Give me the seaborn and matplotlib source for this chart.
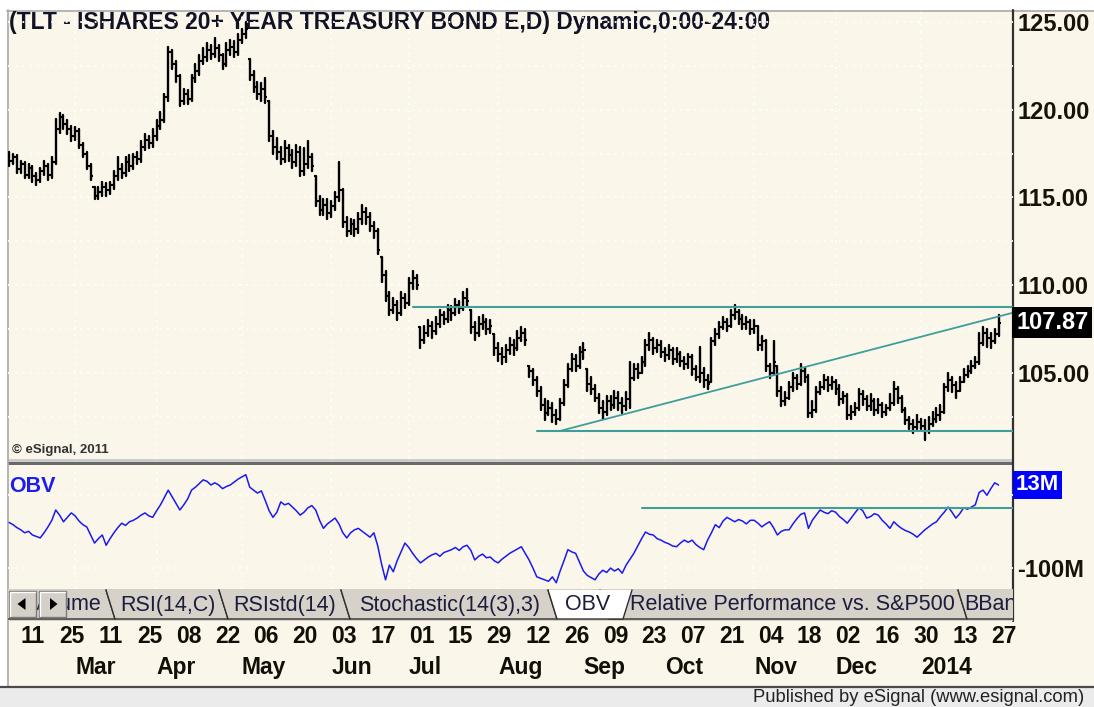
import numpy as np
import pandas as pd
import matplotlib
matplotlib.use("Agg")
import matplotlib.pyplot as plt
import seaborn as sns
from matplotlib.patches import Rectangle, Polygon

# ---------------- data ----------------
start_date = "2013-02-06"

close = [117.1, 117.3, 116.6, 116.9, 116.3, 116.7, 116.2, 116.0, 116.5, 116.8, 116.3, 117.0,
         118.9, 119.6, 119.2, 118.9, 118.5, 118.8, 118.0, 117.5, 116.8, 116.2,
         115.1, 115.3, 115.6, 115.4, 115.7, 116.2, 116.6, 116.4,
         117.0, 116.8, 117.3, 117.2, 117.9, 118.3, 118.1, 118.5, 119.1, 119.4,
         120.7, 123.3, 122.6, 121.9, 120.5, 120.9, 120.6, 121.8, 122.2, 122.8,
         123.0, 123.4, 123.2, 123.5, 123.1, 122.6, 123.4, 123.6, 123.3, 124.0, 124.3, 124.6,
         122.0, 121.3, 120.9, 121.2, 120.7, 118.5, 117.9, 117.6, 117.2, 117.8,
         117.4, 117.0, 117.6, 116.5, 116.9, 117.3, 116.8,
         114.8, 114.3, 114.6, 114.1, 114.5, 115.0, 115.4, 113.6, 113.1, 113.5,
         113.2, 113.8, 114.2, 113.9, 113.4, 113.1, 112.0,
         110.6, 109.4, 108.6, 108.9, 108.4, 109.3, 109.0, 110.1, 110.4, 110.0,
         106.9, 107.3, 107.7, 107.4, 107.8, 108.3, 108.1, 108.6, 108.4,
         108.9, 108.7, 109.3, 109.1, 107.6, 107.3, 107.8, 107.9, 107.5, 107.7,
         106.4, 106.1, 105.9, 106.3, 106.6, 106.4, 107.0, 107.3, 106.9,
         105.1, 104.6, 104.0, 103.2, 102.7, 103.0, 102.6, 102.4, 103.3, 104.3,
         105.2, 105.8, 105.4, 106.2, 106.3, 104.4, 104.1, 103.6,
         103.0, 102.8, 103.4, 103.2, 103.6, 103.3, 103.1, 103.5,
         104.7, 105.2, 105.0, 105.6, 106.6, 106.9, 106.4, 106.6, 106.2,
         106.0, 106.3, 105.8, 106.1, 105.7, 105.5, 105.9, 105.2, 104.8, 105.0, 104.6, 104.4,
         106.8, 107.2, 107.6, 107.9, 107.7, 108.3, 108.5, 108.1, 107.8, 107.9,
         107.5, 107.7, 106.6, 106.8, 105.4, 105.0, 105.6, 104.0, 103.4, 103.6,
         104.2, 104.7, 104.4, 105.1, 104.8, 102.7, 102.9, 103.9, 104.2, 104.6, 104.3, 104.5,
         104.1, 103.5, 103.7, 102.6, 102.8, 103.0, 103.8, 103.5, 103.1, 103.4, 102.9, 103.2,
         102.8, 103.0, 103.3, 104.1, 103.6, 102.9, 102.3, 102.1, 101.9, 102.2, 102.0, 101.7, 102.1,
         102.4, 102.6, 102.8, 104.2, 104.6, 104.3, 104.0, 104.5, 104.9, 105.1,
         105.4, 105.6, 106.7, 107.3, 107.0, 106.8, 107.2, 107.87]

high = [117.6, 117.5, 117.4, 117.1, 117.0, 116.9, 116.8, 116.4, 116.7, 117.1, 116.9, 117.3,
        119.5, 119.8, 119.7, 119.4, 119.1, 119.0, 118.9, 118.1, 117.6, 116.9,
        115.6, 115.6, 115.9, 115.8, 115.9, 116.5, 117.3, 116.9,
        117.3, 117.4, 117.5, 117.6, 118.2, 118.6, 118.5, 118.9, 119.4, 119.9,
        120.9, 123.6, 123.4, 122.8, 122.0, 121.2, 121.1, 122.0, 122.6, 123.1,
        123.5, 123.8, 123.7, 124.1, 123.7, 123.2, 123.8, 124.0, 123.9, 124.3, 124.6, 125.0,
        122.9, 122.2, 121.6, 121.5, 121.8, 120.5, 118.8, 118.4, 117.9, 118.2,
        118.0, 117.7, 118.0, 117.9, 117.8, 118.2, 117.5,
        116.2, 115.1, 114.9, 114.9, 114.8, 115.3, 117.0, 115.5, 113.9, 113.8,
        113.7, 114.1, 114.6, 114.4, 114.1, 113.6, 113.2,
        111.6, 110.8, 109.6, 109.3, 109.1, 109.6, 109.5, 110.4, 110.8, 110.6,
        107.6, 107.7, 108.0, 107.9, 108.2, 108.6, 108.5, 108.9, 108.8,
        109.2, 109.1, 109.6, 109.8, 108.6, 107.9, 108.2, 108.3, 108.1, 108.0,
        107.2, 106.7, 106.4, 106.6, 107.0, 106.9, 107.4, 107.6, 107.5,
        105.4, 105.2, 104.8, 104.2, 103.5, 103.4, 103.3, 102.9, 103.5, 104.6,
        105.5, 106.1, 106.0, 106.5, 106.7, 105.2, 104.8, 104.3,
        103.8, 103.4, 103.7, 103.7, 104.0, 103.9, 103.6, 103.9,
        105.6, 105.5, 105.5, 105.9, 106.9, 107.3, 107.0, 106.9, 106.8,
        106.4, 106.6, 106.4, 106.4, 106.2, 105.9, 106.1, 106.0, 105.4, 106.5, 105.3, 104.9,
        107.0, 107.5, 107.9, 108.2, 108.1, 108.6, 108.9, 108.6, 108.3, 108.2,
        108.0, 108.0, 107.7, 107.1, 106.9, 105.5, 106.8, 105.4, 104.2, 103.9,
        104.5, 105.0, 104.9, 105.5, 105.3, 104.9, 103.4, 104.2, 104.5, 104.9, 104.8, 104.8,
        104.6, 104.3, 103.9, 103.8, 103.1, 103.3, 104.1, 104.0, 103.7, 103.8, 103.5, 103.5,
        103.3, 103.2, 103.8, 104.5, 104.2, 103.7, 103.0, 102.5, 102.3, 102.6, 102.4, 102.3, 102.5,
        102.8, 103.0, 103.2, 104.4, 105.0, 104.8, 104.5, 104.8, 105.2, 105.4,
        105.7, 105.9, 107.3, 107.6, 107.5, 107.3, 107.5, 108.3]

low = [116.8, 116.9, 116.4, 116.4, 116.1, 116.1, 115.9, 115.7, 115.9, 116.3, 116.0, 116.1,
       116.9, 118.7, 118.9, 118.6, 118.2, 118.3, 117.8, 117.3, 116.6, 116.0,
       114.9, 114.9, 115.1, 115.1, 115.2, 115.5, 116.0, 116.1,
       116.2, 116.5, 116.6, 116.9, 117.0, 117.7, 117.8, 117.9, 118.3, 118.9,
       119.3, 120.5, 122.3, 121.6, 120.2, 120.3, 120.3, 120.5, 121.6, 122.0,
       122.6, 122.8, 122.9, 123.0, 122.8, 122.3, 122.5, 123.1, 123.0, 123.1, 123.8, 124.1,
       121.7, 121.0, 120.6, 120.5, 120.4, 118.2, 117.5, 117.2, 116.9, 117.0,
       117.1, 116.7, 116.8, 116.2, 116.3, 116.7, 116.5,
       114.5, 114.0, 114.0, 113.8, 113.9, 114.3, 114.8, 113.3, 112.8, 112.9,
       112.8, 113.0, 113.5, 113.5, 113.1, 112.7, 111.8,
       110.2, 109.1, 108.3, 108.4, 108.0, 108.3, 108.7, 108.9, 109.8, 109.8,
       106.4, 106.7, 107.1, 107.0, 107.2, 107.6, 107.8, 107.9, 108.0,
       108.3, 108.4, 108.6, 108.8, 107.3, 106.9, 107.1, 107.5, 107.2, 107.3,
       106.0, 105.7, 105.5, 105.6, 106.1, 106.0, 106.3, 106.8, 106.6,
       104.8, 104.3, 103.7, 102.9, 102.3, 102.6, 102.2, 102.1, 102.3, 103.2,
       104.2, 105.1, 105.1, 105.3, 105.8, 104.0, 103.8, 103.4,
       102.7, 102.4, 102.6, 102.9, 103.0, 102.9, 102.7, 102.9,
       103.0, 104.6, 104.7, 105.0, 105.4, 106.3, 106.1, 106.2, 105.9,
       105.7, 105.8, 105.5, 105.6, 105.4, 105.2, 105.3, 104.9, 104.6, 104.5, 104.2, 104.1,
       104.5, 106.6, 107.0, 107.5, 107.4, 107.6, 108.1, 107.8, 107.5, 107.5,
       107.2, 107.3, 106.3, 106.3, 105.1, 104.7, 104.9, 103.7, 103.1, 103.2,
       103.5, 104.0, 104.1, 104.3, 104.5, 102.5, 102.5, 102.8, 103.8, 104.1, 104.0, 104.1,
       103.8, 103.2, 103.3, 102.4, 102.4, 102.6, 102.9, 103.2, 102.9, 102.9, 102.6, 102.7,
       102.5, 102.6, 102.9, 103.2, 103.3, 102.8, 102.1, 101.8, 101.6, 101.8, 101.8, 101.2, 101.6,
       102.0, 102.2, 102.3, 102.7, 104.0, 103.9, 103.6, 104.0, 104.5, 104.8,
       105.0, 105.3, 105.5, 106.6, 106.5, 106.4, 106.7, 107.1]

obv = [-38, -41, -45, -48, -52, -50, -55, -57, -59, -52, -44, -35,
       -21, -28, -37, -31, -25, -29, -36, -41, -44, -55,
       -66, -60, -55, -69, -60, -52, -45, -39,
       -42, -37, -35, -32, -28, -25, -29, -31, -22, -14,
       -4, 6, -3, -12, -21, -14, -6, 6, 10, 15,
       20, 18, 13, 16, 13, 8, 11, 13, 17, 21, 24, 27,
       10, 6, 2, 5, -8, -22, -31, -24, -10, -14,
       -12, -17, -22, -28, -24, -18, -15,
       -21, -35, -46, -40, -36, -32, -40, -52, -59, -52,
       -48, -46, -50, -54, -58, -52, -70,
       -95, -116, -96, -105, -90, -78, -66, -72, -80, -87,
       -93, -89, -85, -82, -80, -84, -79, -77, -75,
       -72, -76, -71, -69, -76, -89, -84, -81, -86, -85,
       -90, -93, -88, -84, -80, -77, -74, -71, -80,
       -89, -100, -112, -114, -116, -118, -112, -120, -104, -90,
       -75, -78, -80, -92, -104, -110, -113, -116,
       -108, -103, -106, -100, -104, -101, -107, -96,
       -88, -80, -70, -60, -51, -54, -55, -60, -62,
       -65, -67, -70, -71, -66, -62, -65, -62, -68, -72, -75, -62,
       -52, -41, -45, -36, -31, -34, -37, -34, -36, -40,
       -35, -35, -39, -44, -40, -37, -45, -55, -50, -48,
       -48, -40, -33, -27, -25, -46, -35, -28, -21, -24, -26, -22,
       -24, -30, -34, -39, -32, -25, -18, -22, -32, -30, -26, -28,
       -35, -40, -46, -37, -42, -46, -49, -51, -54, -58, -53, -48, -44,
       -40, -37, -30, -24, -17, -24, -32, -26, -18, -20,
       -17, -14, 3, 6, -1, 8, 16, 13]

price_ticks = [105, 110, 115, 120, 125]
price_grid = [102.5, 107.5, 112.5, 117.5, 122.5]
obv_ticks = [0, -100]
obv_tick_labels = ["", "-100M"]

day_ticks = ["2013-02-11", "2013-02-25", "2013-03-11", "2013-03-25", "2013-04-08", "2013-04-22",
             "2013-05-06", "2013-05-20", "2013-06-03", "2013-06-17", "2013-07-01", "2013-07-15",
             "2013-07-29", "2013-08-12", "2013-08-26", "2013-09-09", "2013-09-23", "2013-10-07",
             "2013-10-21", "2013-11-04", "2013-11-18", "2013-12-02", "2013-12-16", "2013-12-30",
             "2014-01-13", "2014-01-27"]
day_labels = ["11", "25", "11", "25", "08", "22", "06", "20", "03", "17", "01", "15", "29",
              "12", "26", "09", "23", "07", "21", "04", "18", "02", "16", "30", "13", "27"]
month_ticks = ["2013-03-01", "2013-04-01", "2013-05-01", "2013-06-03", "2013-07-01", "2013-08-01",
               "2013-09-02", "2013-10-01", "2013-11-01", "2013-12-02", "2014-01-01"]
month_labels = ["Mar", "Apr", "May", "Jun", "Jul", "Aug", "Sep", "Oct", "Nov", "Dec", "2014"]

resistance = ("2013-07-02", 108.75)
support = ("2013-08-15", 101.7)
rising = [("2013-08-23", 101.7), ("2014-01-29", 108.22)]
obv_level = ("2013-09-23", -18.3)

title = "(TLT - ISHARES 20+ YEAR TREASURY BOND E,D) Dynamic,0:00-24:00"
tab_names = ["Volume", "RSI(14,C)", "RSIstd(14)", "Stochastic(14(3),3)", "OBV",
             "Relative Performance vs. S&P500", "BBands"]

# ---------------- style ----------------
sns.set_theme(style="white")
plt.rcParams["font.family"] = ["Liberation Sans", "DejaVu Sans"]

CREAM = "#FBF6EA"
TEAL = "#3F9E9A"
W, H = 1094, 707

n = min(len(close), len(high), len(low), len(obv))
c = np.array(close[:n]); hi = np.array(high[:n]); lo = np.array(low[:n]); ob = np.array(obv[:n])
dates = pd.bdate_range(start_date, periods=n)
idx = np.arange(n)
op = np.r_[c[0], c[:-1]]
hi = np.maximum(hi, np.maximum(c, lo))
op = np.clip(op, lo, hi)

def loc(d):
    return int(dates.searchsorted(pd.Timestamp(d)))

def px_rect(x0, y0, x1, y1):
    return [x0 / W, 1 - y1 / H, (x1 - x0) / W, (y1 - y0) / H]

fig = plt.figure(figsize=(W / 100, H / 100), dpi=100)
fig.patch.set_facecolor("white")

# background frame (pixel coordinates)
bg = fig.add_axes([0, 0, 1, 1])
bg.set_xlim(0, W); bg.set_ylim(H, 0); bg.axis("off")
bg.add_patch(Rectangle((8, 11), W - 8, 675, fc=CREAM, ec="none"))
bg.plot([7.5, 7.5], [10, 686], color="#A8A8A8", lw=1.2)
bg.plot([7, W], [10.5, 10.5], color="#A8A8A8", lw=1.2)
bg.add_patch(Rectangle((0, 687), W, 20, fc="#EBEBEB", ec="none"))
bg.plot([0, W], [686.5, 686.5], color="#4A4A4A", lw=1.6)
bg.add_patch(Rectangle((8, 459), 1005, 3, fc="#CCCCCC", ec="none"))
bg.add_patch(Rectangle((8, 462), 1005, 3, fc="#6A6A6A", ec="none"))
bg.plot([1013, 1013], [10, 621], color="#303030", lw=1.6, zorder=5)
bg.text(9, 23, title, fontsize=16.5, fontweight="bold", color="#121226", va="center", ha="left")
bg.text(12, 450, "\u00a9 eSignal, 2011", fontsize=9.5, fontweight="bold", color="#333333", va="center")
bg.text(9, 487, "OBV", fontsize=15.5, fontweight="bold", color="#1E1EEB", va="center")
bg.text(1084, 697, "Published by eSignal (www.esignal.com)", fontsize=13.2, color="#222222",
        ha="right", va="center")

XLIM = (-0.3, -0.3 + 1005 / 3.88)

# ---------------- price panel ----------------
ax = fig.add_axes(px_rect(8, 11, 1013, 459))
ax.set_facecolor("none")
bars = pd.DataFrame({"x": np.repeat(idx, 2), "y": np.column_stack([lo, hi]).ravel(),
                     "bar": np.repeat(idx, 2)})
sns.lineplot(data=bars, x="x", y="y", units="bar", estimator=None, sort=False,
             color="black", lw=1.7, ax=ax, legend=False)
ax.hlines(op, idx - 0.55, idx, color="black", lw=1.5)
ax.hlines(c, idx, idx + 0.55, color="black", lw=1.5)

r0 = loc(resistance[0]); s0 = loc(support[0])
ax.plot([r0, XLIM[1]], [resistance[1], resistance[1]], color=TEAL, lw=1.5)
ax.plot([s0, XLIM[1]], [support[1], support[1]], color=TEAL, lw=1.5)
(d1, p1), (d2, p2) = rising
i1, i2 = loc(d1), loc(d2)
slope = (p2 - p1) / (i2 - i1)
ax.plot([i1, XLIM[1]], [p1, p1 + slope * (XLIM[1] - i1)], color=TEAL, lw=1.3)

ax.set_xlim(*XLIM)
ax.set_ylim(125 - (459 - 22) / 17.55, 125 + (22 - 11) / 17.55)
ax.set_xlabel(""); ax.set_ylabel("")
month_idx = [loc(d) for d in month_ticks]
ax.set_xticks(month_idx)
ax.set_yticks(price_ticks)
ax.set_yticks(price_grid, minor=True)
ax.set_yticklabels([f"{v:.2f}" for v in price_ticks], fontsize=17, fontweight="bold", color="#18120A")
ax.yaxis.tick_right()
ax.tick_params(axis="y", which="both", length=0, pad=3)
ax.tick_params(axis="x", length=0, labelbottom=False)
ax.grid(True, which="both", color="white", ls=(0, (1, 3)), lw=1.3)
for s in ax.spines.values():
    s.set_visible(False)
ax.annotate(f"{c[-1]:.2f}", xy=(1.0, c[-1]), xycoords=("axes fraction", "data"),
            xytext=(2.2, 0), textcoords="offset points", ha="left", va="center",
            fontsize=17, fontweight="bold", color="white",
            bbox=dict(boxstyle="square,pad=0.16", fc="black", ec="none"), annotation_clip=False)

# ---------------- OBV panel ----------------
ax2 = fig.add_axes(px_rect(8, 466, 1013, 589))
ax2.set_facecolor("none")
sns.lineplot(x=idx, y=ob, color="#1A1AF0", lw=1.1, ax=ax2, legend=False)
o0 = loc(obv_level[0])
ax2.plot([o0, XLIM[1]], [obv_level[1], obv_level[1]], color=TEAL, lw=1.5)
ax2.set_xlim(*XLIM)
ax2.set_ylim(13 - (589 - 485) / 0.735, 13 + (485 - 466) / 0.735)
ax2.set_xlabel(""); ax2.set_ylabel("")
ax2.set_xticks(month_idx)
ax2.set_yticks(obv_ticks)
ax2.set_yticklabels(obv_tick_labels, fontsize=17, fontweight="bold", color="#18120A")
ax2.yaxis.tick_right()
ax2.tick_params(axis="y", length=0, pad=3)
ax2.tick_params(axis="x", length=0, labelbottom=False)
ax2.grid(True, color="white", ls=(0, (1, 3)), lw=1.3)
for s in ax2.spines.values():
    s.set_visible(False)
ax2.annotate(f"{ob[-1]:.0f}M", xy=(1.0, ob[-1]), xycoords=("axes fraction", "data"),
             xytext=(2.2, 0), textcoords="offset points", ha="left", va="center",
             fontsize=16, fontweight="bold", color="white",
             bbox=dict(boxstyle="square,pad=0.14", fc="#0000FF", ec="none"), annotation_clip=False)

# ---------------- tab bar ----------------
tb = fig.add_axes(px_rect(8, 589, 1013, 621))
tb.set_xlim(8, 1013); tb.set_ylim(621, 589); tb.axis("off")
tb.add_patch(Rectangle((8, 589), 1005, 32, fc="#D4D0C8", ec="none"))
TOP, BOT, SL = 590, 619, 9
EDGE = "#2E2E2E"
tab_left = [-30, 106, 219, 341, 548, 600, 958]
tab_right = [106, 219, 341, 548, 632, 958, 1100]
tab_text_x = [102, 167.5, 284.5, 450, 588, 792.5, 964]
tab_ha = ["right", "center", "center", "center", "center", "center", "left"]
active = tab_names.index("OBV")
order = [k for k in range(len(tab_names)) if k != active] + [active]
z = 2
for k in order:
    xl, xr = tab_left[k], tab_right[k]
    if k == active:
        pts = [(xl, TOP), (xl + SL, BOT), (xr - SL, BOT), (xr, TOP)]
        fc = "white"
    else:
        pts = [(xl, TOP), (xl + SL, BOT), (xr + SL, BOT), (xr, TOP)]
        fc = "#D6D2CA"
    tb.add_patch(Polygon(pts, closed=True, fc=fc, ec="none", zorder=z, clip_on=True))
    xs = [p[0] for p in pts]; ys = [p[1] for p in pts]
    tb.plot(xs, ys, color=EDGE, lw=1.0, zorder=z + 0.5, clip_on=True)
    tb.text(tab_text_x[k], 605, tab_names[k], fontsize=15.5, color="#1C1C3C", ha=tab_ha[k],
            va="center", zorder=z + 0.6, clip_on=True)
    z += 1
for (bx, tri) in [(9, [(17.5, 604), (25.5, 598), (25.5, 610)]), (39, [(50, 598), (50, 610), (57.5, 604)])]:
    tb.add_patch(Rectangle((bx, 591), 27, 26, fc="#D4D0C8", ec="#7A7A7A", lw=1.0, zorder=z + 1))
    tb.plot([bx + 1, bx + 1, bx + 26], [616, 592, 592], color="white", lw=1.0, zorder=z + 1.5)
    tb.add_patch(Polygon(tri, closed=True, fc="black", ec="none", zorder=z + 2))

# ---------------- date labels ----------------
dax = fig.add_axes(px_rect(8, 621, 1013, 686))
dax.set_xlim(*XLIM); dax.set_ylim(0, 1); dax.axis("off")
for d, lbl in zip(day_ticks, day_labels):
    dax.text(loc(d), 0.754, lbl, ha="left", va="center", fontsize=16.5, fontweight="bold",
             color="#120E08")
for d, lbl in zip(month_ticks, month_labels):
    dax.text(loc(d), 0.28, lbl, ha="left", va="center", fontsize=16.5, fontweight="bold",
             color="#120E08")

fig.savefig("out.png", dpi=100, facecolor=fig.get_facecolor())
